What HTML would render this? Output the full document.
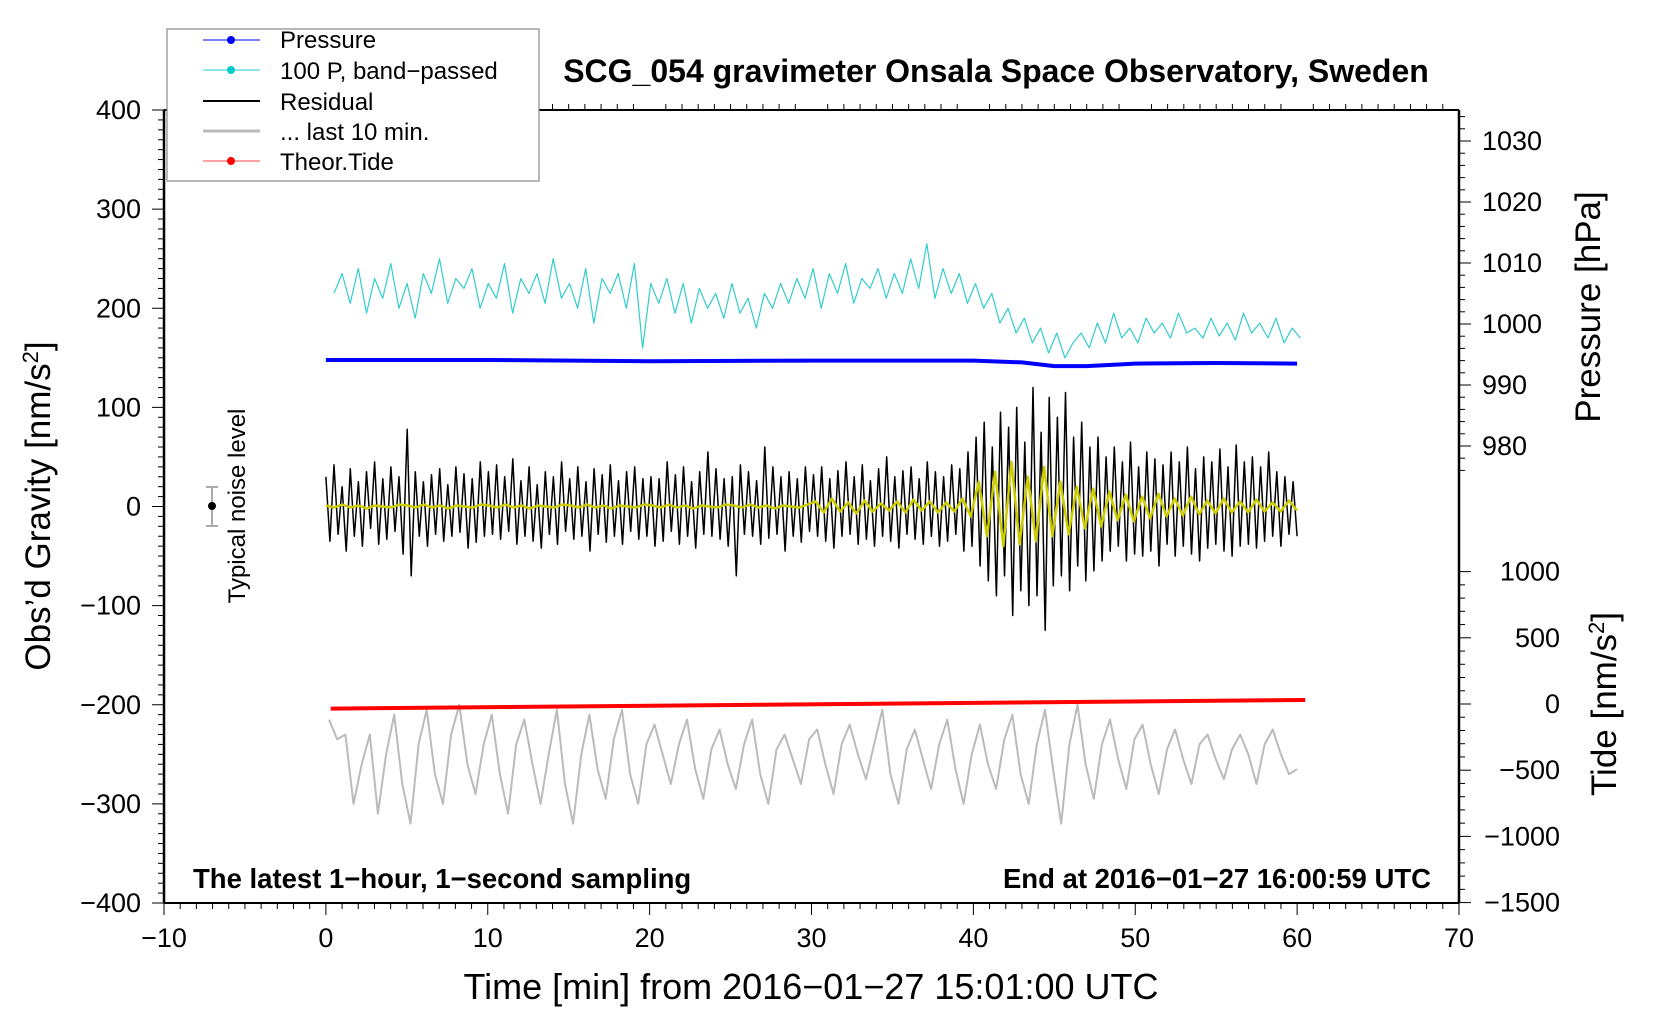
<!DOCTYPE html>
<html><head><meta charset="utf-8"><style>
body{margin:0;background:#fff}
svg{display:block;font-family:"Liberation Sans",Arial,sans-serif}
</style></head><body>
<svg id="chart" width="1660" height="1020" viewBox="0 0 1660 1020">
<g id="marks"></g>
<g id="axes"></g>
<text x="996" y="82" text-anchor="middle" font-size="32" font-weight="bold">SCG_054 gravimeter Onsala Space Observatory, Sweden</text>
<text x="193" y="888" font-size="27.5" font-weight="bold">The latest 1−hour, 1−second sampling</text>
<text x="1431" y="888" text-anchor="end" font-size="27.5" font-weight="bold">End at 2016−01−27 16:00:59 UTC</text>
<text x="811" y="999" text-anchor="middle" font-size="36">Time [min] from 2016−01−27 15:01:00 UTC</text>
<text transform="translate(50,506) rotate(-90)" text-anchor="middle" font-size="35">Obs’d Gravity [nm/s<tspan baseline-shift="super" font-size="22">2</tspan>]</text>
<text transform="translate(1600,307) rotate(-90)" text-anchor="middle" font-size="35">Pressure [hPa]</text>
<text transform="translate(1616,704) rotate(-90)" text-anchor="middle" font-size="35">Tide [nm/s<tspan baseline-shift="super" font-size="22">2</tspan>]</text>
<g>
<line x1="212" y1="487" x2="212" y2="526" stroke="#aaa" stroke-width="2"/>
<line x1="206" y1="487" x2="218" y2="487" stroke="#aaa" stroke-width="2"/>
<line x1="206" y1="526" x2="218" y2="526" stroke="#aaa" stroke-width="2"/>
<circle cx="212" cy="506" r="4" fill="#000"/>
<text transform="translate(245,506) rotate(-90)" text-anchor="middle" font-size="24">Typical noise level</text>
</g>
<g>
<rect x="167" y="29" width="372" height="152" fill="#fff" stroke="#888" stroke-width="1.2"/>
<line x1="203" y1="40" x2="260" y2="40" stroke="#00f" stroke-width="1"/><circle cx="231" cy="40" r="4" fill="#00f"/>
<text x="280" y="48" font-size="24">Pressure</text>
<line x1="203" y1="70" x2="260" y2="70" stroke="#2cc" stroke-width="1"/><circle cx="231" cy="70" r="4" fill="#0cc"/>
<text x="280" y="79" font-size="24">100 P, band−passed</text>
<line x1="203" y1="101" x2="260" y2="101" stroke="#000" stroke-width="2"/>
<text x="280" y="110" font-size="24">Residual</text>
<line x1="203" y1="131" x2="260" y2="131" stroke="#bbb" stroke-width="3"/>
<text x="280" y="140" font-size="24">... last 10 min.</text>
<line x1="203" y1="161" x2="260" y2="161" stroke="#f44" stroke-width="1"/><circle cx="231" cy="161" r="4" fill="#f00"/>
<text x="280" y="170" font-size="24">Theor.Tide</text>
</g>
</svg>
<script>
const residual=[30,-35,42,-28,20,-45,38,-30,25,-40,35,-22,45,-38,28,-33,40,-25,30,-48,78,-70,35,-30,25,-40,32,-28,38,-35,22,-30,40,-26,33,-42,28,-36,45,-30,
35,-28,42,-33,30,-25,48,-38,26,-30,40,-35,22,-42,35,-28,30,-38,45,-25,28,-33,40,-30,25,-45,38,-28,32,-36,42,-30,26,-38,35,-25,40,-33,28,-30,
30,-40,28,-35,45,-25,32,-38,40,-30,25,-42,35,-28,55,-30,38,-33,28,-40,30,-70,42,-28,35,-30,26,-38,60,-32,40,-28,30,-45,35,-30,28,-36,40,-25,
32,-30,40,-35,28,-42,36,-30,45,-28,30,-38,42,-33,26,-40,38,-30,50,-35,30,-42,36,-28,40,-33,28,-38,45,-30,35,-40,30,-35,42,-28,38,-45,55,-40,
70,-60,85,-75,60,-90,95,-70,80,-110,100,-85,65,-100,120,-90,75,-125,110,-80,90,-70,115,-85,70,-60,85,-75,60,-65,70,-55,
50,-45,60,-40,45,-55,65,-48,40,-50,55,-45,48,-60,42,-38,55,-50,45,-40,60,-48,38,-55,50,-42,45,-38,58,-45,40,-50,62,-40,45,-38,50,-42,40,-35,55,-30,35,-40,30,-28,25,-30];
const filtered=[1,-1,2,-1,1,-2,1,0,-1,2,1,-1,2,-1,1,-2,1,0,-1,2,1,-1,2,-1,1,-2,1,0,-1,2,1,-1,2,-1,1,-2,1,0,-1,2,1,-1,2,-1,1,-2,1,0,-1,2,1,-1,2,-1,1,-2,1,0,-1,2,
5,-6,8,-5,4,-7,6,-5,3,-4,5,-6,7,-4,5,-6,4,-5,8,-10,
25,-30,35,-40,45,-38,30,-35,40,-30,25,-28,20,-22,18,-20,
15,-14,12,-15,10,-12,13,-10,8,-9,10,-8,6,-7,8,-6,5,-6,7,-5,4,-5,6,-4];
const bandpassed=[215,235,205,240,195,230,210,245,200,225,190,235,215,250,205,230,220,240,200,225,210,245,195,230,215,235,205,250,210,225,200,240,185,230,215,235,200,245,160,225,
205,230,195,225,185,220,200,215,190,225,195,210,180,215,200,225,205,230,210,240,200,235,215,245,205,230,220,240,210,235,215,250,220,265,210,240,
215,235,205,225,200,215,185,200,175,190,165,180,155,175,150,165,
175,160,185,165,195,170,180,165,190,175,185,170,195,175,180,170,190,172,185,168,195,175,185,170,190,165,180,170];
const last10=[-215,-235,-230,-300,-260,-230,-310,-250,-210,-280,-320,-240,-205,-270,-300,-230,-200,-260,-290,-240,-210,-270,-310,-240,-215,-260,-300,-250,-205,-280,-320,-250,-210,-265,-295,-235,-205,-270,-300,-240,-220,-250,-280,-240,-215,-265,-295,-245,-225,-260,-285,-240,-215,-270,-300,-245,-230,-255,-280,-235,-225,-260,-290,-240,-220,-250,-275,-240,-205,-270,-300,-245,-225,-255,-285,-240,-215,-265,-300,-250,-220,-260,-285,-235,-210,-270,-300,-240,-205,-265,-320,-240,-200,-260,-295,-240,-215,-255,-285,-235,-220,-260,-290,-245,-225,-255,-280,-240,-230,-255,-275,-245,-230,-250,-280,-240,-225,-250,-270,-265];
const pressureTimes=[0,10,20,30,40,43,45,47,50,55,60];
const pressureHpa=[994.1,994.1,993.9,994.0,994.0,993.7,993.1,993.1,993.5,993.6,993.5];
const tideTimes=[0.3,60.5];
const tideVals=[-35,30];
const xTicks=[-10,0,10,20,30,40,50,60,70];
const yTicks=[400,300,200,100,0,-100,-200,-300,-400];
const pTicks=[1030,1020,1010,1000,990,980];
const tTicks=[1000,500,0,-500,-1000,-1500];

const X0=164,X1=1459,Y0=110,Y1=903;
const xS=t=>X0+(t+10)/80*(X1-X0);
const yS=v=>Y0+(400-v)/800*(Y1-Y0);
const pS=p=>324+(1000-p)*6.1;
const tS=v=>704-v*(66.2/500);
const NS='http://www.w3.org/2000/svg';
const marks=document.getElementById('marks'),axes=document.getElementById('axes');
function mk(tag,attrs,parent){const e=document.createElementNS(NS,tag);for(const k in attrs)e.setAttribute(k,attrs[k]);parent.appendChild(e);return e;}
function series(vals,t0,t1,yf){return vals.map((v,i)=>[xS(t0+(t1-t0)*i/(vals.length-1)),yf(v)]);}
function poly(pts,stroke,w,name){const e=mk('polyline',{points:pts.map(p=>p[0].toFixed(1)+','+p[1].toFixed(1)).join(' '),fill:'none',stroke:stroke,'stroke-width':w,'stroke-linejoin':'round'},marks);

return e;}
poly(series(last10,0.2,60,yS),'#bbb',2,'last-10-min-line');
poly(series(bandpassed,0.5,60.2,yS),'#3cc',1.2,'bandpassed-line');
poly(pressureTimes.map((t,i)=>[xS(t),pS(pressureHpa[i])]),'#00f',4,'pressure-line');
poly(series(residual,0,60,yS),'#000',1.5,'residual-line');
poly(series(filtered,0,60,yS),'#cc0',2.5,'filtered-line');
poly(tideTimes.map((t,i)=>[xS(t),tS(tideVals[i])]),'#f00',4,'tide-line');

function L(x1,y1,x2,y2,w){mk('line',{x1,y1,x2,y2,stroke:'#000','stroke-width':w||1.5},axes);}
function T(x,y,s,anchor,name){const e=mk('text',{x,y,'font-size':27,'text-anchor':anchor},axes);e.textContent=s;

}
L(X0,Y0,X1,Y0,2);L(X0,Y1,X1,Y1,2);L(X0,Y0,X0,Y1,2.5);L(X1,Y0,X1,Y1,2.5);
for(let t=-10;t<=70;t+=1){const x=xS(t),maj=t%10===0;L(x,Y1,x,Y1+(maj?12:6),1);L(x,Y0,x,Y0-(maj?0:6),1);}
xTicks.forEach(t=>T(xS(t),Y1+44,String(t).replace('-','−'),'middle','x-tick-label'));
for(let v=-400;v<=400;v+=10){const y=yS(v),maj=v%100===0;L(X0,y,X0-(maj?12:6),y,1);}
yTicks.forEach(v=>T(X0-23,yS(v)+9,String(v).replace('-','−'),'end','y-tick-label'));
for(let p=976;p<=1034;p+=2){const y=pS(p);if(y<Y0||y>Y1)continue;L(X1,y,X1+(p%10===0?12:6),y,1);}
pTicks.forEach(p=>T(X1+23,pS(p)+9,String(p),'start','pressure-tick-label'));
for(let v=-1500;v<=1000;v+=100){const y=tS(v);L(X1,y,X1+(v%500===0?12:6),y,1);}
tTicks.forEach(v=>T(X1+101,tS(v)+9,String(v).replace('-','−'),'end','tide-tick-label'));
</script>
</body></html>
